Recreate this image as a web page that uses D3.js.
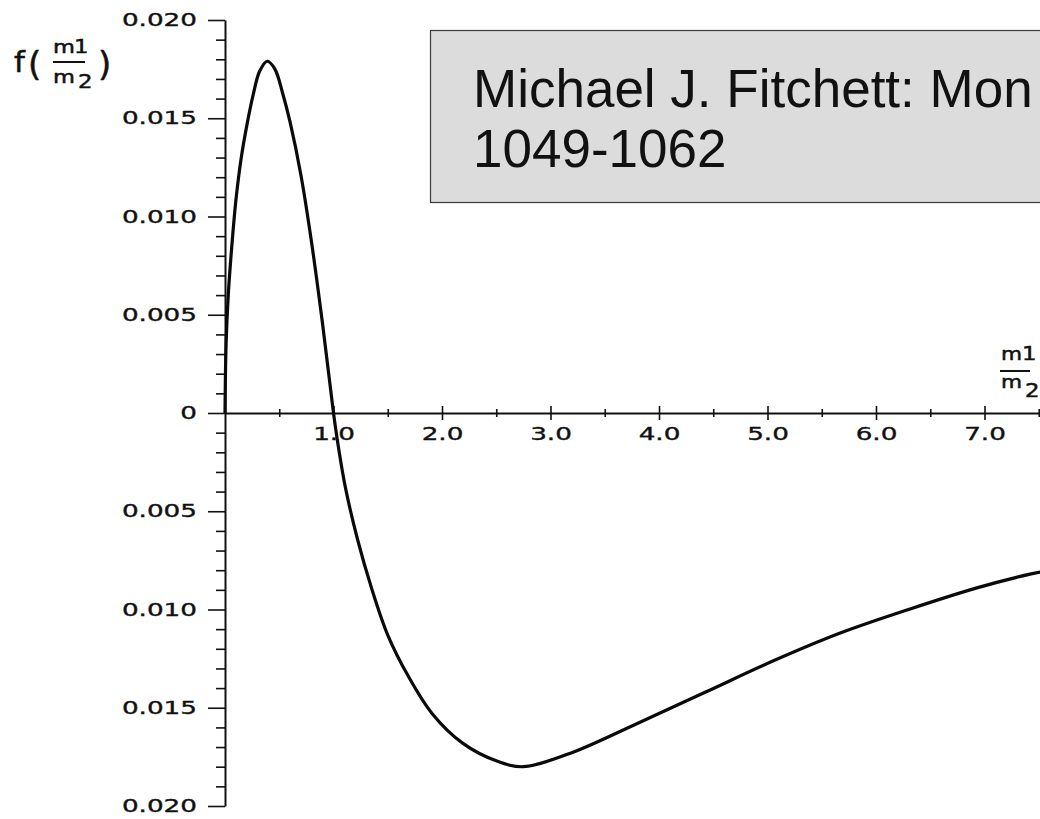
<!DOCTYPE html>
<html>
<head>
<meta charset="utf-8">
<script src="https://cdn.jsdelivr.net/npm/d3@7"></script>
<style>
  body { margin: 0; background: #fff; }
  svg { display: block; }
</style>
</head>
<body>
<div id="chart"></div>
<script>
// mass ratio m1/m2 and f(m1/m2)
const ratio = [0, 0.01, 0.03, 0.06, 0.1, 0.15, 0.2, 0.26, 0.32, 0.39, 0.46, 0.53,
  0.6, 0.7, 0.8, 0.9, 1.0, 1.05, 1.11, 1.22, 1.35, 1.5, 1.69, 1.91, 2.19, 2.5, 2.75,
  3.19, 3.8, 4.43, 5.06, 5.67, 6.3, 6.93, 7.42, 7.6];
const fValue = [0, 0.0035, 0.006, 0.0083, 0.0108, 0.013, 0.0146, 0.0162, 0.0174,
  0.0179, 0.0175, 0.0163, 0.0148, 0.0121, 0.0086, 0.0045, 0, -0.0019, -0.0038,
  -0.0064, -0.0089, -0.0113, -0.0134, -0.0153, -0.0168, -0.0177, -0.018, -0.0173,
  -0.0158, -0.0142, -0.0126, -0.0112, -0.01, -0.0089, -0.0082, -0.008];

const yMajor = [0.02, 0.015, 0.01, 0.005, 0, -0.005, -0.01, -0.015, -0.02];
const yMinor = d3.range(-19, 20).filter(d => d % 5 !== 0).map(d => d / 1000);
const xMajor = [1, 2, 3, 4, 5, 6, 7];
const xMinor = [0.5, 1.5, 2.5, 3.5, 4.5, 5.5, 6.5, 7.5];

const noteLines = ["Michael J. Fitchett: Mon", "1049-1062"];

const width = 1040,
  height = 819;
const ink = "#111";
const stretch = 1.5; // the scan's tick font is wide and round

const svg = d3.select("#chart")
  .append("svg")
  .attr("width", width)
  .attr("height", height);

const xScale = d3.scaleLinear().domain([0, 7.6]).range([225, 225 + 7.6 * 108.5]);
const yScale = d3.scaleLinear().domain([-0.02, 0.02]).range([806, 20]);

function styleLabels(sel) {
  sel.attr("font-family", "DejaVu Sans, sans-serif")
    .attr("font-size", 17.5)
    .attr("fill", ink)
    .attr("stroke", ink)
    .attr("stroke-width", 0.35);
}

// y axis, minor ticks first
svg.append("g")
  .attr("transform", "translate(" + xScale(0) + ",0)")
  .call(d3.axisLeft(yScale).tickValues(yMinor).tickSize(9).tickSizeOuter(0).tickFormat(""))
  .call(g => g.select(".domain").remove())
  .call(g => g.selectAll("line").attr("stroke", ink).attr("stroke-width", 1.6));

const yAxis = svg.append("g")
  .attr("transform", "translate(" + xScale(0) + ",0)")
  .call(d3.axisLeft(yScale)
    .tickValues(yMajor)
    .tickSize(17)
    .tickSizeOuter(0)
    .tickPadding(11)
    .tickFormat(d => d === 0 ? "0" : Math.abs(d).toFixed(3)));
yAxis.select(".domain").attr("stroke", ink).attr("stroke-width", 2);
yAxis.selectAll("line").attr("stroke", ink).attr("stroke-width", 1.6);
yAxis.selectAll("text")
  .call(styleLabels)
  .attr("x", -28 / stretch)
  .attr("transform", "scale(" + stretch + ",1)");

// x axis through zero, ticks cross the line
const xAxisG = svg.append("g")
  .attr("transform", "translate(0," + yScale(0) + ")");

xAxisG.append("g")
  .call(d3.axisBottom(xScale).tickValues(xMinor).tickSize(4).tickSizeOuter(0).tickFormat(""))
  .call(g => g.select(".domain").remove())
  .call(g => g.selectAll("line").attr("y1", -4).attr("stroke", ink).attr("stroke-width", 1.6));

const xAxis = xAxisG.append("g")
  .call(d3.axisBottom(xScale)
    .tickValues(xMajor)
    .tickSize(7)
    .tickSizeOuter(0)
    .tickPadding(8)
    .tickFormat(d3.format(".1f")));
xAxis.select(".domain").attr("stroke", ink).attr("stroke-width", 2);
xAxis.selectAll("line").attr("y1", -7).attr("stroke", ink).attr("stroke-width", 1.6);
xAxis.selectAll("text")
  .call(styleLabels)
  .attr("transform", "scale(" + stretch + ",1)");

// the curve
const line = d3.line()
  .x((d, i) => xScale(ratio[i]))
  .y(d => yScale(d))
  .curve(d3.curveCatmullRom.alpha(0.5));

svg.append("path")
  .datum(fValue)
  .attr("fill", "none")
  .attr("stroke", "#0a0a0a")
  .attr("stroke-width", 3.2)
  .attr("stroke-linejoin", "round")
  .attr("d", line);

// small helper for the hand placed title glyphs
function glyph(g, x, y, size, k, str) {
  g.append("text")
    .attr("transform", "translate(" + x + "," + y + ") scale(" + k + ",1)")
    .attr("font-size", size)
    .text(str);
}

// y axis title f(m1/m2)
const yTitle = svg.append("g")
  .attr("font-family", "DejaVu Sans, sans-serif")
  .attr("fill", ink)
  .attr("stroke", ink)
  .attr("stroke-width", 0.5);
glyph(yTitle, 14, 72, 28, 1.1, "f");
glyph(yTitle, 28, 76, 34, 1, "(");
glyph(yTitle, 53, 53, 18, 1.25, "m");
glyph(yTitle, 74, 53, 19, 1.2, "1");
glyph(yTitle, 53, 83, 18, 1.25, "m");
glyph(yTitle, 78, 88, 19, 1.2, "2");
glyph(yTitle, 98, 76, 34, 1, ")");
yTitle.append("line").attr("x1", 53).attr("x2", 85).attr("y1", 62).attr("y2", 62)
  .attr("stroke-width", 2);

// x axis title m1/m2 at the right end
const xTitle = svg.append("g")
  .attr("font-family", "DejaVu Sans, sans-serif")
  .attr("fill", ink)
  .attr("stroke", ink)
  .attr("stroke-width", 0.5);
glyph(xTitle, 1001, 360, 18, 1.2, "m");
glyph(xTitle, 1022, 360, 19, 1.2, "1");
glyph(xTitle, 1001, 388, 18, 1.2, "m");
glyph(xTitle, 1025, 397, 19, 1.2, "2");
xTitle.append("line").attr("x1", 1000).attr("x2", 1030).attr("y1", 371).attr("y2", 371)
  .attr("stroke-width", 2);

// grey note box
svg.append("rect")
  .attr("x", 430.5)
  .attr("y", 30.5)
  .attr("width", 700)
  .attr("height", 172)
  .attr("fill", "#dcdcdc")
  .attr("stroke", "#3a3a3a")
  .attr("stroke-width", 1.2);

svg.append("g")
  .selectAll("text")
  .data(noteLines)
  .enter()
  .append("text")
  .attr("x", 473)
  .attr("y", (d, i) => 107 + i * 60)
  .attr("font-family", "Liberation Sans, Arial, sans-serif")
  .attr("font-size", 53)
  .attr("fill", "#111")
  .text(d => d);
</script>
</body>
</html>
